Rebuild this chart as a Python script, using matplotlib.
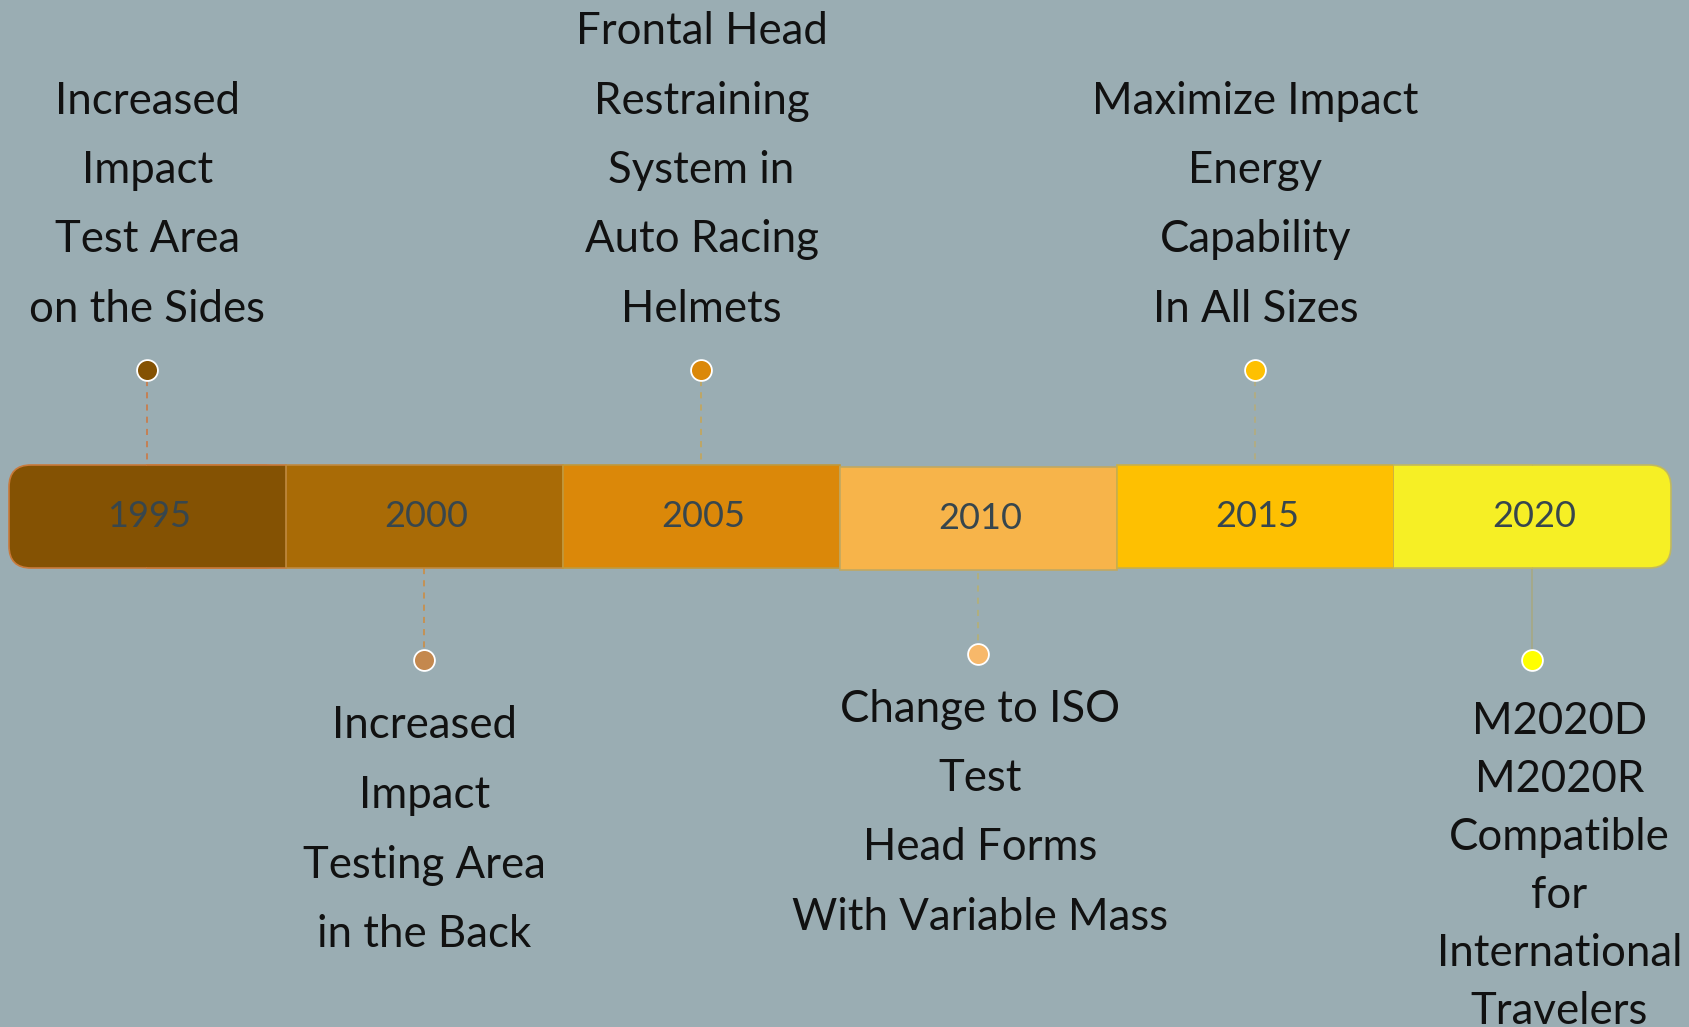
import matplotlib
matplotlib.use("Agg")
import matplotlib.pyplot as plt
from matplotlib.patches import Rectangle, FancyBboxPatch

plt.rcParams["font.family"] = ["Lato", "DejaVu Sans"]

BG = "#9aadb3"
YEARTXT = "#37464d"

years = ["1995", "2000", "2005", "2010", "2015", "2020"]
seg_colors = ["#845203", "#a96b06", "#db8809", "#f7b44a", "#fec001", "#f6ef25"]
seg_edges = ["#c87a3c", "#c08a40", "#c0993c", "#c0a862", "#c8b04a", "#c0b860"]
dot_colors = ["#845203", "#c4884e", "#db8809", "#f7b86a", "#fec001", "#ffff00"]
line_colors = ["#d0743a", "#d08a3a", "#c8a450", "#b8b070", "#b8ac78", "#a8a880"]
sides = ["up", "down", "up", "down", "up", "down"]
labels = [
    ["Increased", "Impact", "Test Area", "on the Sides"],
    ["Increased", "Impact", "Testing Area", "in the Back"],
    ["Frontal Head", "Restraining", "System in", "Auto Racing", "Helmets"],
    ["Change to ISO", "Test", "Head Forms", "With Variable Mass"],
    ["Maximize Impact", "Energy", "Capability", "In All Sizes"],
    ["M2020D", "M2020R", "Compatible", "for", "International", "Travelers"],
]

W, H = 1689, 1027
fig = plt.figure(figsize=(W / 100, H / 100), dpi=100, facecolor=BG)
ax = fig.add_axes([0, 0, 1, 1])
ax.set_xlim(0, W)
ax.set_ylim(H, 0)
ax.axis("off")
ax.set_facecolor(BG)

x0, seg_w = 9, 277
top, bot = 465, 568
mid = (top + bot) / 2
n = len(years)
FS = 31.5

for i, (yr, c, ec) in enumerate(zip(years, seg_colors, seg_edges)):
    left = x0 + i * seg_w
    dy = 2 if yr == "2010" else 0
    if i == 0 or i == n - 1:
        ax.add_patch(FancyBboxPatch((left, top), seg_w, bot - top,
                                    boxstyle="round,pad=0,rounding_size=22",
                                    fc=c, ec=ec, lw=1.2, zorder=2))
        cover = left + seg_w / 2 if i == 0 else left
        ax.add_patch(Rectangle((cover, top), seg_w / 2, bot - top,
                               fc=c, ec="none", zorder=3))
        xa = left + (seg_w / 2 if i == 0 else 0)
        xb = left + (seg_w if i == 0 else seg_w / 2)
        ax.plot([xa, xb], [top, top], color=ec, lw=1.2, zorder=3)
        ax.plot([xa, xb], [bot, bot], color=ec, lw=1.2, zorder=3)
    else:
        ax.add_patch(Rectangle((left, top + dy), seg_w, bot - top,
                               fc=c, ec=ec, lw=1.2, zorder=3))
    cx = left + seg_w / 2
    ax.text(cx + 2, mid + dy, yr, ha="center", va="center", fontsize=26,
            color=YEARTXT, zorder=5)

    lines = labels[i]
    if sides[i] == "up":
        dot_y = 370
        ax.plot([cx, cx], [dot_y + 10, top], color=line_colors[i], lw=1.1,
                ls=(0, (4, 4)), zorder=1)
        ax.plot(cx, dot_y, "o", ms=15, color=dot_colors[i], mec="white",
                mew=1.3, zorder=6)
        spacing = 69.5
        last = 309.5
        for k, t in enumerate(lines):
            y = last - (len(lines) - 1 - k) * spacing
            ax.text(cx, y, t, ha="center", va="center", fontsize=FS,
                    color="#111111")
    else:
        dot_y = 654 if yr == "2010" else 660
        start = 561 if yr == "2010" else bot
        ls = "-" if yr == "2020" else (0, (4, 4))
        ax.plot([cx, cx], [start, dot_y - 10], color=line_colors[i], lw=1.1,
                ls=ls, zorder=1)
        ax.plot(cx, dot_y, "o", ms=15, color=dot_colors[i], mec="white",
                mew=1.3, zorder=6)
        if yr == "2020":
            spacing, first, tx = 58, 721.5, cx + 27
        elif yr == "2010":
            spacing, first, tx = 69.5, 709, cx + 2
        else:
            spacing, first, tx = 69.5, 726, cx
        for k, t in enumerate(lines):
            ax.text(tx, first + k * spacing, t, ha="center", va="center",
                    fontsize=FS, color="#111111")

fig.savefig("out.png", dpi=100, facecolor=BG)
